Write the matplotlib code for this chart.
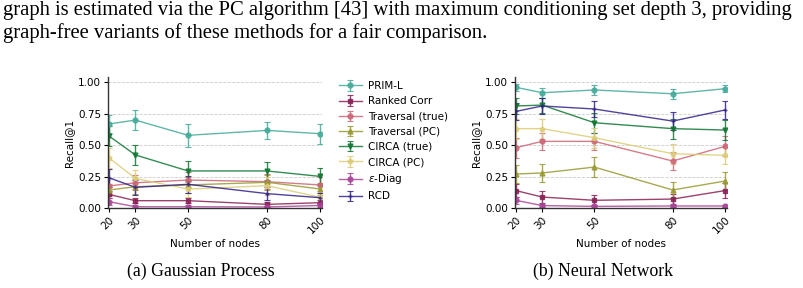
import matplotlib
matplotlib.use("Agg")
import matplotlib.pyplot as plt
import numpy as np

nodes = [20, 30, 50, 80, 100]
methods = ["PRIM-L", "Ranked Corr", "Traversal (true)", "Traversal (PC)",
           "CIRCA (true)", "CIRCA (PC)", r"$\epsilon$-Diag", "RCD"]
colors = ["#44AA99", "#882255", "#CC6677", "#999933",
          "#117733", "#DDCC77", "#AA4499", "#332288"]
markers = ["o", "s", "o", "^", "v", "p", "o", "+"]

gp_mean = {
    "PRIM-L":           [0.667, 0.698, 0.577, 0.616, 0.590],
    "Ranked Corr":      [0.108, 0.058, 0.058, 0.029, 0.042],
    "Traversal (true)": [0.175, 0.200, 0.222, 0.209, 0.183],
    "Traversal (PC)":   [0.143, 0.169, 0.183, 0.204, 0.151],
    "CIRCA (true)":     [0.571, 0.421, 0.294, 0.294, 0.251],
    "CIRCA (PC)":       [0.397, 0.235, 0.150, 0.177, 0.085],
    r"$\epsilon$-Diag": [0.050, 0.010, 0.010, 0.008, 0.020],
    "RCD":              [0.240, 0.164, 0.188, 0.114, 0.082],
}
gp_err = {
    "PRIM-L":           [0.07, 0.08, 0.09, 0.07, 0.08],
    "Ranked Corr":      [0.03, 0.02, 0.02, 0.02, 0.02],
    "Traversal (true)": [0.06, 0.06, 0.06, 0.06, 0.06],
    "Traversal (PC)":   [0.05, 0.06, 0.06, 0.06, 0.05],
    "CIRCA (true)":     [0.08, 0.08, 0.08, 0.07, 0.07],
    "CIRCA (PC)":       [0.08, 0.07, 0.06, 0.07, 0.05],
    r"$\epsilon$-Diag": [0.03, 0.01, 0.01, 0.01, 0.01],
    "RCD":              [0.07, 0.06, 0.07, 0.05, 0.04],
}
nn_mean = {
    "PRIM-L":           [0.958, 0.915, 0.937, 0.907, 0.947],
    "Ranked Corr":      [0.138, 0.087, 0.061, 0.071, 0.138],
    "Traversal (true)": [0.479, 0.529, 0.529, 0.373, 0.489],
    "Traversal (PC)":   [0.270, 0.278, 0.325, 0.143, 0.214],
    "CIRCA (true)":     [0.810, 0.817, 0.677, 0.630, 0.619],
    "CIRCA (PC)":       [0.630, 0.630, 0.558, 0.431, 0.418],
    r"$\epsilon$-Diag": [0.061, 0.019, 0.013, 0.016, 0.016],
    "RCD":              [0.767, 0.810, 0.786, 0.690, 0.778],
}
nn_err = {
    "PRIM-L":           [0.03, 0.04, 0.04, 0.04, 0.03],
    "Ranked Corr":      [0.05, 0.05, 0.04, 0.04, 0.06],
    "Traversal (true)": [0.08, 0.07, 0.07, 0.07, 0.08],
    "Traversal (PC)":   [0.07, 0.07, 0.08, 0.06, 0.07],
    "CIRCA (true)":     [0.06, 0.06, 0.08, 0.08, 0.08],
    "CIRCA (PC)":       [0.08, 0.08, 0.08, 0.08, 0.07],
    r"$\epsilon$-Diag": [0.03, 0.01, 0.01, 0.01, 0.01],
    "RCD":              [0.07, 0.06, 0.06, 0.07, 0.07],
}

body_text = ["graph is estimated via the PC algorithm [43] with maximum conditioning set depth 3, providing",
             "graph-free variants of these methods for a fair comparison."]
captions = ["(a) Gaussian Process", "(b) Neural Network"]
ticks_y = [0.0, 0.25, 0.5, 0.75, 1.0]

W, H = 804, 288
fig = plt.figure(figsize=(W / 100, H / 100), dpi=100)

serif = "Liberation Serif"
fig.text(3 / W, 1 - 11 / H, body_text[0], family=serif, fontsize=14.9, va="center", ha="left")
fig.text(3 / W, 1 - 33 / H, body_text[1], family=serif, fontsize=14.9, va="center", ha="left")

axes_px = [(108, 322), (515, 727)]
fs = 7.5
handles = []
for k, (data_m, data_e) in enumerate([(gp_mean, gp_err), (nn_mean, nn_err)]):
    x0, x1 = axes_px[k]
    ax = fig.add_axes([x0 / W, 1 - 208 / H, (x1 - x0) / W, 131 / H])
    for m, c, mk in zip(methods, colors, markers):
        h = ax.errorbar(nodes, data_m[m], yerr=data_e[m], color=c, marker=mk,
                        markersize=3.5, linewidth=1.0, elinewidth=1.0, capsize=2,
                        capthick=0.8, alpha=0.85, label=m)
        if k == 0:
            handles.append(h)
    ax.set_xlim(19.6, 100.8)
    ax.set_ylim(0, 1.04)
    ax.set_xticks(nodes)
    ax.set_xticklabels([str(n) for n in nodes], rotation=45, ha="right",
                       rotation_mode="anchor", fontsize=fs)
    ax.set_yticks(ticks_y)
    ax.set_yticklabels(["%.2f" % t for t in ticks_y], fontsize=fs)
    ax.tick_params(length=3, width=0.8, pad=2)
    ax.grid(axis="y", linestyle="--", color="#cccccc", linewidth=0.6)
    ax.set_axisbelow(True)
    for s in ["top", "right"]:
        ax.spines[s].set_visible(False)
    for s in ["left", "bottom"]:
        ax.spines[s].set_color("#333333")
        ax.spines[s].set_linewidth(1.0)
    ax.set_xlabel("Number of nodes", fontsize=fs, labelpad=2)
    ax.set_ylabel("Recall@1", fontsize=fs, labelpad=3)
    fig.text((201 + 402 * k) / W, 1 - 271 / H, captions[k], family=serif,
             fontsize=12.8, ha="center", va="center")

fig.legend(handles, methods, loc="upper left", bbox_to_anchor=(339 / W, 1 - 81 / H),
           frameon=False, fontsize=fs, handlelength=2.2, handletextpad=0.6,
           labelspacing=0.50, borderaxespad=0, borderpad=0)

fig.savefig("out.png", dpi=100)
